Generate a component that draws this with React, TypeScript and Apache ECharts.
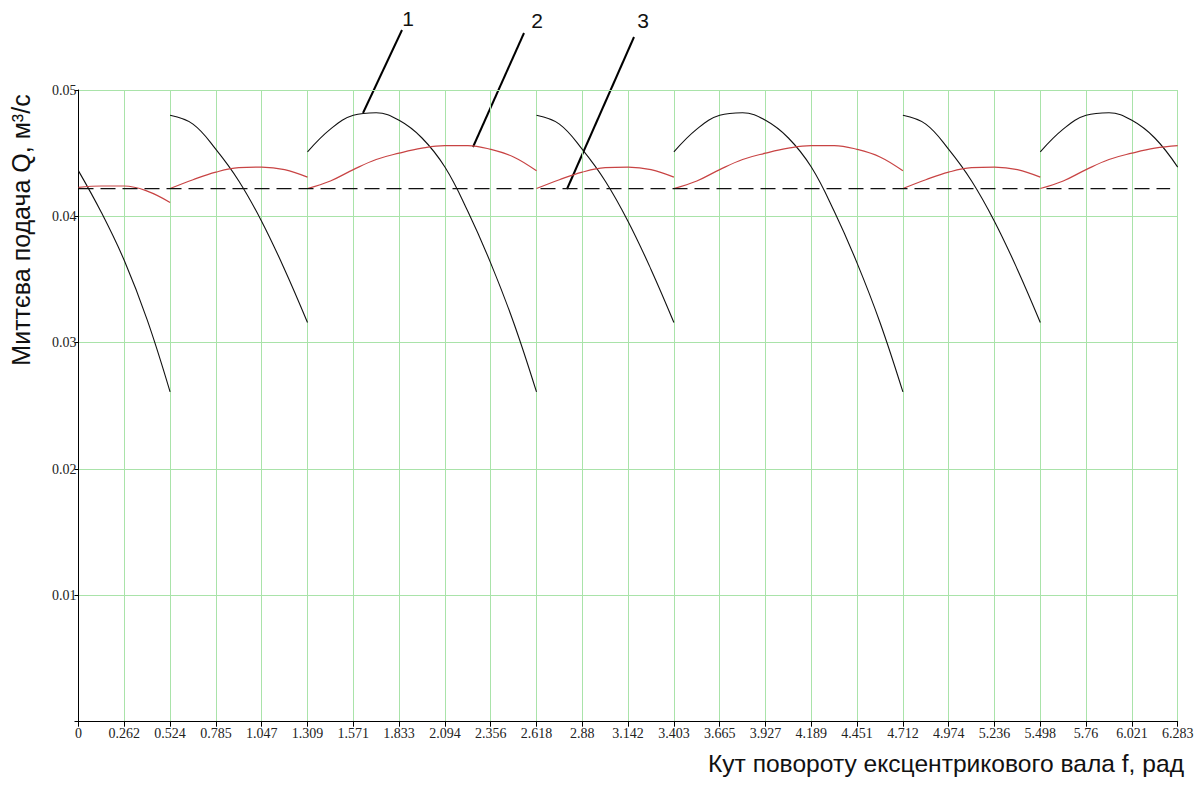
import React, { useEffect, useRef } from 'react';
import * as echarts from 'echarts';

// x axis: angle of the eccentric shaft, rad (ticks every π/12)
const X_MAX = 2 * Math.PI;
const TICK = Math.PI / 12;
const SAMPLE = Math.PI / 24; // spacing of the read samples (half a tick)

// Curve 1 (black): instantaneous flow of the pump, m³/s
const black0 = [0.0436, 0.0403, 0.0365, 0.0318, 0.0261]; // 0 … 0.524
const blackShort = [0.048, 0.0473, 0.0453, 0.0428, 0.0396, 0.0358, 0.0316]; // short pulses
const blackLong = [0.0451, 0.0469, 0.048, 0.0482, 0.0476, 0.0462, 0.0439, 0.0404, 0.0363, 0.0316, 0.0261]; // long pulses
const blackEnd = [0.0451, 0.0469, 0.048, 0.0482, 0.0476, 0.0462, 0.0439]; // 5.498 … 6.283

// Curve 2 (red)
const red0 = [0.0423, 0.0424, 0.0424, 0.042, 0.0411];
const redShort = [0.0422, 0.0429, 0.0435, 0.04385, 0.0439, 0.0437, 0.0431];
const redLong = [0.0422, 0.0428, 0.0437, 0.0445, 0.045, 0.0454, 0.0456, 0.0456, 0.0453, 0.0447, 0.0436];
const redEnd = [0.0422, 0.0428, 0.0437, 0.0445, 0.045, 0.0454, 0.0456];

// Curve 3 (dashed): mean flow
const meanQ = 0.0422;
const meanEnd = 6.24;

// where each segment begins, in ticks (π/12)
const blackSegments: [number, number[]][] = [
  [0, black0], [2, blackShort], [5, blackLong], [10, blackShort],
  [13, blackLong], [18, blackShort], [21, blackEnd],
];
const redSegments: [number, number[]][] = [
  [0, red0], [2, redShort], [5, redLong], [10, redShort],
  [13, redLong], [18, redShort], [21, redEnd],
];

const Y_NAME = 'Миттєва подача Q, м³/с';
const X_NAME = 'Кут повороту ексцентрикового вала f, рад';
const curveLabels = ['1', '2', '3'];

function toData(startTick: number, vals: number[]) {
  return vals.map((v, i) => [startTick * TICK + i * SAMPLE, v]);
}

export default function App() {
  const ref = useRef<HTMLDivElement>(null);
  useEffect(() => {
    if (!ref.current) return;
    const chart = echarts.init(ref.current, undefined, { renderer: 'svg' });
    const series: any[] = [];
    blackSegments.forEach(([s, v]) =>
      series.push({
        type: 'line', data: toData(s, v), smooth: 0.4, symbol: 'none',
        lineStyle: { color: '#111', width: 1.1 }, silent: true,
      })
    );
    redSegments.forEach(([s, v]) =>
      series.push({
        type: 'line', data: toData(s, v), smooth: 0.4, symbol: 'none',
        lineStyle: { color: '#c84444', width: 1.2 }, silent: true,
      })
    );
    series.push({
      type: 'line', data: [[0, meanQ], [meanEnd, meanQ]], symbol: 'none',
      lineStyle: { color: '#111', width: 1.3, type: [15, 7] }, silent: true,
    });

    const font = '"Liberation Sans", Arial, sans-serif';
    chart.setOption({
      animation: false,
      backgroundColor: '#fff',
      grid: { left: 78.5, right: 24.3, top: 90, bottom: 63.3, containLabel: false },
      xAxis: {
        type: 'value', min: 0, max: X_MAX, interval: TICK,
        axisLine: { show: true, lineStyle: { color: '#000', width: 1 } },
        axisTick: { show: true, length: 5, lineStyle: { color: '#000' } },
        axisLabel: {
          margin: 5, color: '#222', fontFamily: '"Liberation Serif", serif', fontSize: 14,
          formatter: (v: number) => String(parseFloat(v.toFixed(3))),
        },
        splitLine: { show: true, lineStyle: { color: '#a9e3a9', width: 1 } },
      },
      yAxis: {
        type: 'value', min: 0, max: 0.05, interval: 0.01,
        axisLine: { show: true, lineStyle: { color: '#000', width: 1 } },
        axisTick: { show: true, length: 4, lineStyle: { color: '#000' } },
        axisLabel: {
          margin: 2, color: '#222', fontFamily: '"Liberation Serif", serif', fontSize: 14,
          formatter: (v: number) => (v === 0 ? '' : v.toFixed(2)),
        },
        splitLine: { show: true, lineStyle: { color: '#a9e3a9', width: 1 } },
      },
      series,
      graphic: [
        {
          type: 'text', x: 21, y: 230, rotation: Math.PI / 2,
          style: { text: Y_NAME, font: `25px ${font}`, fill: '#111', align: 'center', verticalAlign: 'middle' },
        },
        {
          type: 'text', x: 1184, y: 763,
          style: { text: X_NAME, font: `24.6px ${font}`, fill: '#111', align: 'right', verticalAlign: 'middle' },
        },
        { type: 'text', x: 408, y: 18, style: { text: curveLabels[0], font: `21px ${font}`, fill: '#111', align: 'center', verticalAlign: 'middle' } },
        { type: 'text', x: 537, y: 20, style: { text: curveLabels[1], font: `21px ${font}`, fill: '#111', align: 'center', verticalAlign: 'middle' } },
        { type: 'text', x: 643, y: 20, style: { text: curveLabels[2], font: `21px ${font}`, fill: '#111', align: 'center', verticalAlign: 'middle' } },
        { type: 'line', shape: { x1: 402, y1: 30, x2: 363, y2: 113 }, style: { stroke: '#000', lineWidth: 2 } },
        { type: 'line', shape: { x1: 524, y1: 33, x2: 473, y2: 147 }, style: { stroke: '#000', lineWidth: 2 } },
        { type: 'line', shape: { x1: 634, y1: 37, x2: 567, y2: 189 }, style: { stroke: '#000', lineWidth: 2 } },
      ],
    });
    return () => chart.dispose();
  }, []);
  return (
    <div
      ref={ref}
      style={{ position: 'fixed', left: 0, top: 0, width: 1202, height: 785, background: '#fff' }}
    />
  );
}
